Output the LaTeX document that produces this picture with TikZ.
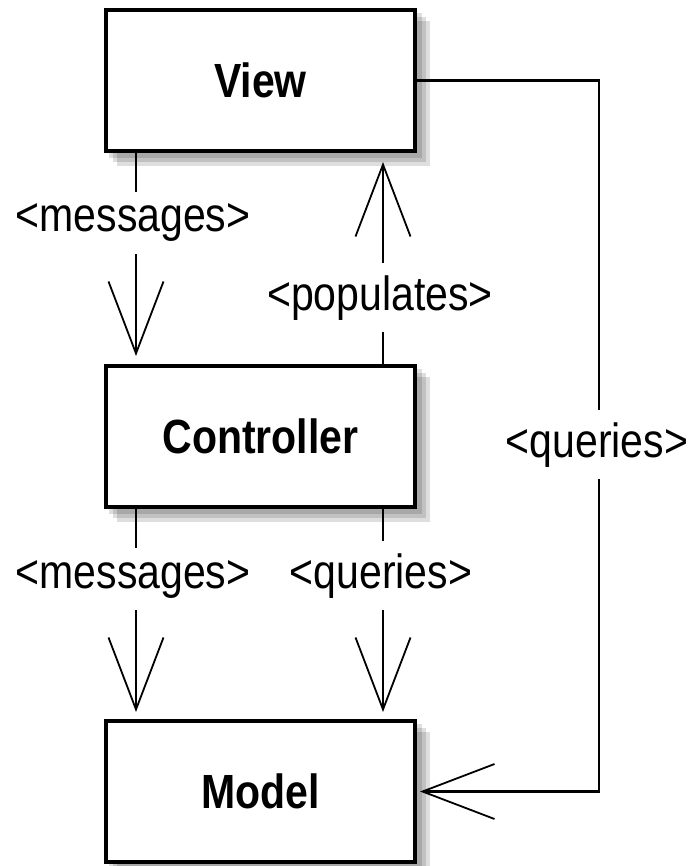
\documentclass[tikz,border=0pt]{standalone}
\usepackage{fontspec}
\setmainfont{Liberation Sans}
\usetikzlibrary{arrows.meta,backgrounds}
\begin{document}
\begin{tikzpicture}[x=1pt,y=-1pt,
  box/.style={draw, line width=4pt, minimum width=309pt, minimum height=141pt,
    fill=white, inner sep=0pt, font=\fontsize{41}{41}\selectfont\bfseries},
  shade/.style={fill=black, opacity=.13},
  conn/.style={line width=2.6pt, -{Straight Barb[length=72pt,width=55pt,line width=1.8pt]}},
  lbl/.style={fill=white, font=\fontsize{41}{41}\selectfont, inner xsep=4pt, inner ysep=12pt, anchor=base}]
  \useasboundingbox (0,0) rectangle (690,866);
  \node[box] (view) at (260.5,80.5) {\scalebox{1}[1.17]{View}};
  \node[box] (ctrl) at (260.5,436.5) {\scalebox{1}[1.17]{Controller}};
  \node[box] (model) at (260.5,791.5) {\scalebox{1}[1.17]{Model}};
  \begin{scope}[on background layer]
    \fill[white] (0,0) rectangle (690,866);
    \foreach \n in {view,ctrl,model}{
      \foreach \d in {5,9,13}{
        \fill[shade] ([shift={(\d,\d)}]\n.south west) rectangle ([shift={(\d,\d)}]\n.north east);
      }
    }
  \end{scope}
  \coordinate (xl) at (136,0);
  \coordinate (xr) at (383,0);
  \coordinate (qc) at (599,443);
  % connectors
  \draw[conn, shorten >=8pt] (view.south -| xl) -- (ctrl.north -| xl);
  \draw[conn, shorten >=9pt] (ctrl.north -| xr) -- (view.south -| xr);
  \draw[conn, shorten >=7pt] (ctrl.south -| xl) -- (model.north -| xl);
  \draw[conn, shorten >=7pt] (ctrl.south -| xr) -- (model.north -| xr);
  \draw[conn, shorten >=3pt] (view.east) -| (qc) |- (model.east);
  % labels
  \node[lbl] (l1) at (133,232) {\scalebox{1}[1.17]{<messages>}};
  \node[lbl] (l2) at (380,310) {\scalebox{1}[1.17]{<populates>}};
  \node[lbl] (l3) at (597,457) {\scalebox{1}[1.17]{<queries>}};
  \node[lbl] (l4) at (133,588) {\scalebox{1}[1.17]{<messages>}};
  \node[lbl] (l5) at (381,588) {\scalebox{1}[1.17]{<queries>}};
\end{tikzpicture}
\end{document}
